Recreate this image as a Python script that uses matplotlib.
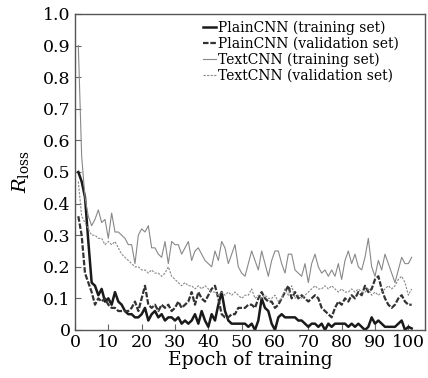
import matplotlib
matplotlib.use("Agg")
import matplotlib.pyplot as plt
import numpy as np

epochs = list(range(1, 102))

plain_train = [0.50, 0.47, 0.42, 0.28, 0.15, 0.14, 0.11, 0.13, 0.09, 0.10,
               0.08, 0.12, 0.09, 0.08, 0.06, 0.05, 0.05, 0.04, 0.04, 0.05,
               0.07, 0.03, 0.05, 0.06, 0.04, 0.05, 0.03, 0.04, 0.04, 0.03,
               0.04, 0.02, 0.03, 0.02, 0.03, 0.05, 0.02, 0.06, 0.03, 0.01,
               0.05, 0.03, 0.08, 0.12, 0.06, 0.03, 0.02, 0.02, 0.02, 0.02,
               0.02, 0.01, 0.02, 0.00, 0.03, 0.10, 0.07, 0.06, 0.02, 0.00,
               0.04, 0.05, 0.04, 0.04, 0.04, 0.04, 0.03, 0.03, 0.02, 0.01,
               0.02, 0.02, 0.01, 0.02, 0.00, 0.02, 0.01, 0.02, 0.02, 0.02,
               0.02, 0.01, 0.02, 0.01, 0.02, 0.01, 0.00, 0.01, 0.04, 0.02,
               0.03, 0.02, 0.01, 0.01, 0.01, 0.01, 0.02, 0.03, 0.00, 0.01,
               0.005]

plain_val = [0.36, 0.30, 0.18, 0.15, 0.12, 0.08, 0.10, 0.09, 0.10, 0.08,
             0.07, 0.07, 0.06, 0.06, 0.06, 0.06, 0.07, 0.09, 0.06, 0.10,
             0.14, 0.08, 0.07, 0.08, 0.06, 0.08, 0.07, 0.08, 0.06, 0.07,
             0.09, 0.07, 0.08, 0.09, 0.12, 0.08, 0.12, 0.10, 0.09, 0.11,
             0.13, 0.14, 0.10, 0.05, 0.04, 0.04, 0.05, 0.05, 0.07, 0.07,
             0.07, 0.08, 0.08, 0.07, 0.10, 0.12, 0.10, 0.09, 0.09, 0.07,
             0.08, 0.10, 0.12, 0.14, 0.10, 0.12, 0.10, 0.11, 0.10, 0.09,
             0.10, 0.11, 0.10, 0.07, 0.06, 0.05, 0.04, 0.07, 0.09, 0.08,
             0.10, 0.09, 0.11, 0.10, 0.12, 0.11, 0.14, 0.12, 0.13, 0.16,
             0.17, 0.13, 0.10, 0.08, 0.07, 0.08, 0.10, 0.11, 0.09, 0.08,
             0.08]

text_train = [0.90, 0.55, 0.42, 0.36, 0.33, 0.35, 0.38, 0.34, 0.35, 0.29,
              0.37, 0.31, 0.31, 0.30, 0.29, 0.27, 0.27, 0.21, 0.30, 0.32,
              0.31, 0.33, 0.26, 0.26, 0.24, 0.23, 0.28, 0.21, 0.28, 0.27,
              0.27, 0.24, 0.26, 0.28, 0.22, 0.25, 0.26, 0.24, 0.22, 0.21,
              0.20, 0.25, 0.22, 0.28, 0.26, 0.21, 0.24, 0.27, 0.20, 0.18,
              0.17, 0.21, 0.25, 0.22, 0.19, 0.25, 0.21, 0.17, 0.22, 0.25,
              0.25, 0.21, 0.18, 0.24, 0.24, 0.19, 0.18, 0.17, 0.21, 0.15,
              0.21, 0.24, 0.20, 0.18, 0.19, 0.17, 0.19, 0.17, 0.21, 0.16,
              0.22, 0.25, 0.21, 0.24, 0.20, 0.19, 0.23, 0.29, 0.20, 0.17,
              0.22, 0.19, 0.24, 0.21, 0.18, 0.15, 0.19, 0.23, 0.21, 0.21,
              0.23]

text_val = [0.47, 0.36, 0.34, 0.32, 0.30, 0.30, 0.29, 0.29, 0.27, 0.28,
            0.27, 0.28, 0.26, 0.24, 0.23, 0.22, 0.21, 0.20, 0.20, 0.19,
            0.19, 0.18, 0.19, 0.18, 0.18, 0.17, 0.18, 0.20, 0.17, 0.16,
            0.15, 0.14, 0.15, 0.14, 0.14, 0.13, 0.14, 0.13, 0.14, 0.13,
            0.12, 0.12, 0.11, 0.12, 0.11, 0.12, 0.11, 0.12, 0.11, 0.10,
            0.11, 0.11, 0.13, 0.10, 0.11, 0.10, 0.11, 0.10, 0.10, 0.11,
            0.09, 0.10, 0.13, 0.11, 0.14, 0.10, 0.11, 0.10, 0.11, 0.12,
            0.13, 0.14, 0.13, 0.13, 0.14, 0.13, 0.14, 0.13, 0.12, 0.13,
            0.12, 0.12, 0.13, 0.12, 0.13, 0.12, 0.12, 0.13, 0.11, 0.12,
            0.11, 0.12, 0.13, 0.14, 0.13, 0.14, 0.16, 0.17, 0.15, 0.11,
            0.13]

labels = ["PlainCNN (training set)", "PlainCNN (validation set)",
          "TextCNN (training set)", "TextCNN (validation set)"]

xticks = list(range(0, 101, 10))
yticks = [0, 0.1, 0.2, 0.3, 0.4, 0.5, 0.6, 0.7, 0.8, 0.9, 1.0]
ytick_labels = ["0", "0.1", "0.2", "0.3", "0.4", "0.5", "0.6", "0.7", "0.8", "0.9", "1.0"]

plt.rcParams['font.family'] = ['DejaVu Serif']
plt.rcParams['mathtext.fontset'] = 'dejavuserif'

fig = plt.figure(figsize=(4.28, 3.78), dpi=100)
ax = fig.add_axes([0.1752, 0.127, 0.993 - 0.1752, 0.963 - 0.127])

ax.plot(epochs, plain_train, color='#1a1a1a', lw=1.8, label=labels[0])
ax.plot(epochs, plain_val, color='#333333', lw=1.6, linestyle=(0, (2.5, 0.8)), label=labels[1])
ax.plot(epochs, text_train, color='#888888', lw=0.8, label=labels[2])
ax.plot(epochs, text_val, color='#888888', lw=0.8, linestyle=(0, (2, 1.2)), label=labels[3])

ax.set_xlim(0, 105)
ax.set_ylim(0, 1.0)
ax.set_xticks(xticks)
ax.set_yticks(yticks)
ax.set_yticklabels(ytick_labels)
ax.tick_params(direction='in', length=4, width=0.8, color='#666666', labelsize=12.5,
               pad=3)
for s in ax.spines.values():
    s.set_color('#555555')
    s.set_linewidth(1.0)

ax.set_xlabel("Epoch of training", fontsize=13.5, labelpad=0)
ax.set_ylabel(r"$R_{\mathrm{loss}}$", fontsize=14, labelpad=9)

leg = ax.legend(loc='upper left', frameon=False, fontsize=10, handlelength=0.9,
                handletextpad=0.2, labelspacing=0.12, borderaxespad=0, borderpad=0,
                bbox_to_anchor=(0.366, 0.979))

fig.savefig("out.png", dpi=100)
